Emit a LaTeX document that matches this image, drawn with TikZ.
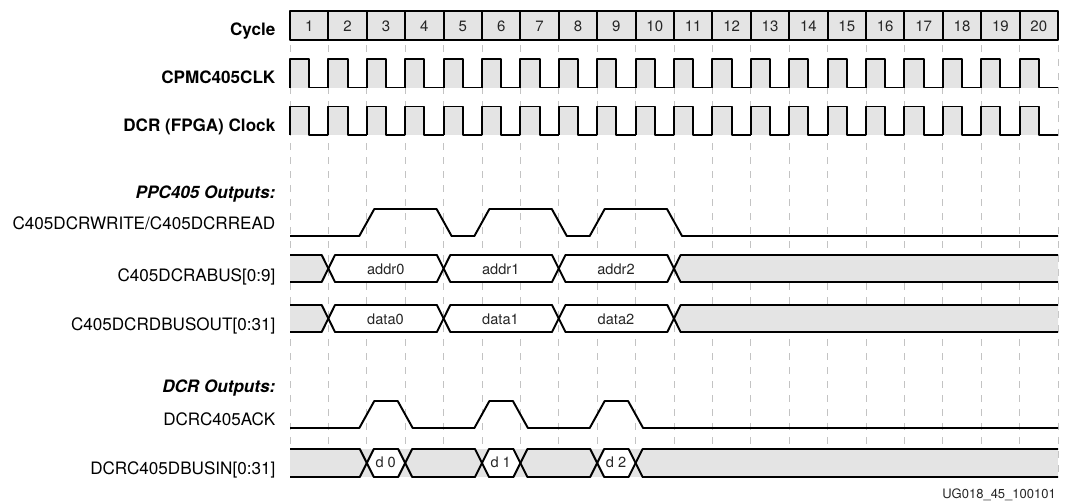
\documentclass[tikz,border=0pt]{standalone}
\usepackage{fontspec}
\setmainfont{TeX Gyre Heros}
\definecolor{wavefill}{RGB}{228,228,228}
\definecolor{gridgrey}{RGB}{195,195,195}
\tikzset{
  x=1pt,y=-1pt,
  wave/.style={line width=1.95pt,line join=round,line cap=butt,black},
  gridline/.style={line width=0.9pt,gridgrey,dash pattern=on 6.5pt off 7.5pt,dash phase=8.7pt},
  sig/.style={anchor=base east,font=\fontsize{17.1}{19}\selectfont,inner sep=0pt},
  sigb/.style={sig,font=\fontsize{17.1}{19}\selectfont\bfseries},
  sigi/.style={sig,font=\fontsize{17.1}{19}\selectfont\bfseries\itshape},
  cyc/.style={anchor=base,font=\fontsize{15}{17}\selectfont,inner sep=0pt,text=black!85},
  val/.style={anchor=base,font=\fontsize{14.6}{16}\selectfont,inner sep=0pt,text=black!85},
}
\begin{document}
\begin{tikzpicture}
\useasboundingbox (0,0) rectangle (1065,501);
% grid
\foreach \k in {0,...,20}{
  \draw[gridline] ({290+38.4*\k},40) -- ({290+38.4*\k},477);
}
% cycle row
\fill[wavefill] (290,11) rectangle (1058,40);
\foreach \k in {0,...,20}{
  \draw[wave] ({290+38.4*\k},11) -- ({290+38.4*\k},40);
}
\draw[wave] (290,11) rectangle (1058,40);
\foreach \k [evaluate=\k as \c using int(\k+1)] in {0,...,19}{
  \node[cyc] (cyc\c) at ({290+38.4*\k+19.2},31) {\c};
}
% clocks
\foreach \hi/\lo in {59/87.5,106.5/135}{
  \foreach \k in {0,...,19}{
    \fill[wavefill] ({290+38.4*\k},\hi) rectangle ({290+38.4*\k+19.2},\lo);
    \fill[white] ({290+38.4*\k+19.2},\hi) rectangle ({290+38.4*\k+38.4},\lo);
  }
  \foreach \k in {0,...,19}{
    \draw[wave] ({290+38.4*\k},\lo) -- ({290+38.4*\k},\hi) -- ({290+38.4*\k+19.2},\hi) -- ({290+38.4*\k+19.2},\lo) -- ({290+38.4*\k+38.4},\lo);
  }
}
% write
\draw[wave] (290,236) -- (359.3,236) -- (374.3,209) -- (436.6,209) -- (451.6,236) -- (474.4,236) -- (489.4,209) -- (551.8,209) -- (566.8,236) -- (589.7,236) -- (604.7,209) -- (667,209) -- (682,236) -- (1058,236);
% ack
\draw[wave] (290,428) -- (359.3,428) -- (374.3,401) -- (397.7,401) -- (412.7,428) -- (474.4,428) -- (489.4,401) -- (512.9,401) -- (527.9,428) -- (589.7,428) -- (604.7,401) -- (628.1,401) -- (643.1,428) -- (1058,428);
% bus rows
\foreach \t/\b in {255/282,305/332}{
  \fill[wavefill] (290,\t) -- (321.7,\t) -- (328.4,{(\t+\b)/2}) -- (321.7,\b) -- (290,\b) -- cycle;
  \fill[white] (328.4,{(\t+\b)/2}) -- (335,\b) -- (436.9,\b) -- (443.6,{(\t+\b)/2}) -- (436.9,\t) -- (335,\t) -- cycle;
  \fill[white] (443.6,{(\t+\b)/2}) -- (450.3,\b) -- (552,\b) -- (558.8,{(\t+\b)/2}) -- (552,\t) -- (450.3,\t) -- cycle;
  \fill[white] (565.5,\t) -- (667.3,\t) -- (673.9,{(\t+\b)/2}) -- (667.3,\b) -- (565.5,\b) -- (558.8,{(\t+\b)/2}) -- cycle;
  \fill[wavefill] (673.9,{(\t+\b)/2}) -- (680.6,\t) -- (1058,\t) -- (1058,\b) -- (680.6,\b) -- cycle;
  \draw[wave] (290,\t) -- (321.7,\t) -- (335,\b) -- (436.9,\b) -- (450.3,\t) -- (552,\t) -- (565.5,\b) -- (667.3,\b) -- (680.6,\t) -- (1058,\t);
  \draw[wave] (290,\b) -- (321.7,\b) -- (335,\t) -- (436.9,\t) -- (450.3,\b) -- (552,\b) -- (565.5,\t) -- (667.3,\t) -- (680.6,\b) -- (1058,\b);
}
\node[val] (addr0) at (385.7,274) {addr0};
\node[val] (addr1) at (500.7,274) {addr1};
\node[val] (addr2) at (616,274) {addr2};
\node[val] (data0) at (385.5,324) {data0};
\node[val] (data1) at (500.5,324) {data1};
\node[val] (data2) at (616,324) {data2};
% dbusin
\fill[wavefill] (290,449) rectangle (1058,477);
\foreach \a/\b in {366.8/405.2,482/520.4,597.2/635.6}{
  \fill[white] (\a,463) -- ({\a+7},449) -- ({\b-7},449) -- (\b,463) -- ({\b-7},477) -- ({\a+7},477) -- cycle;
}
\draw[wave] (290,449) -- (359.8,449) -- (373.8,477) -- (398.2,477) -- (412.2,449) -- (475,449) -- (489,477) -- (513.4,477) -- (527.4,449) -- (590.2,449) -- (604.2,477) -- (628.6,477) -- (642.6,449) -- (1058,449);
\draw[wave] (290,477) -- (359.8,477) -- (373.8,449) -- (398.2,449) -- (412.2,477) -- (475,477) -- (489,449) -- (513.4,449) -- (527.4,477) -- (590.2,477) -- (604.2,449) -- (628.6,449) -- (642.6,477) -- (1058,477);
\node[val] (d0) at (385.7,467.7) {d 0};
\node[val] (d1) at (500.7,467.7) {d 1};
\node[val] (d2) at (616,467.7) {d 2};
% labels
\node[sigb] (lcycle) at (275.5,35) {Cycle};
\node[sigb] (lcpm) at (275.5,83) {CPMC405CLK};
\node[sigb] (ldcr) at (275.5,131) {DCR (FPGA) Clock};
\node[sigi] (lppc) at (275.5,198) {PPC405 Outputs:};
\node[sig] (lwr) at (275.5,229.5) {C405DCRWRITE/C405DCRREAD};
\node[sig] (labus) at (275.5,281.7) {C405DCRABUS[0:9]};
\node[sig] (ldbus) at (275.5,330) {C405DCRDBUSOUT[0:31]};
\node[sigi] (ldcro) at (275.5,392.7) {DCR Outputs:};
\node[sig] (lack) at (275.5,425.7) {DCRC405ACK};
\node[sig] (lin) at (275.5,474) {DCRC405DBUSIN[0:31]};
\node[anchor=base east,inner sep=0pt,font=\fontsize{13}{15}\selectfont,text=black!85] (ug) at (1056,498.3) {UG018\_45\_100101};
\end{tikzpicture}
\end{document}
